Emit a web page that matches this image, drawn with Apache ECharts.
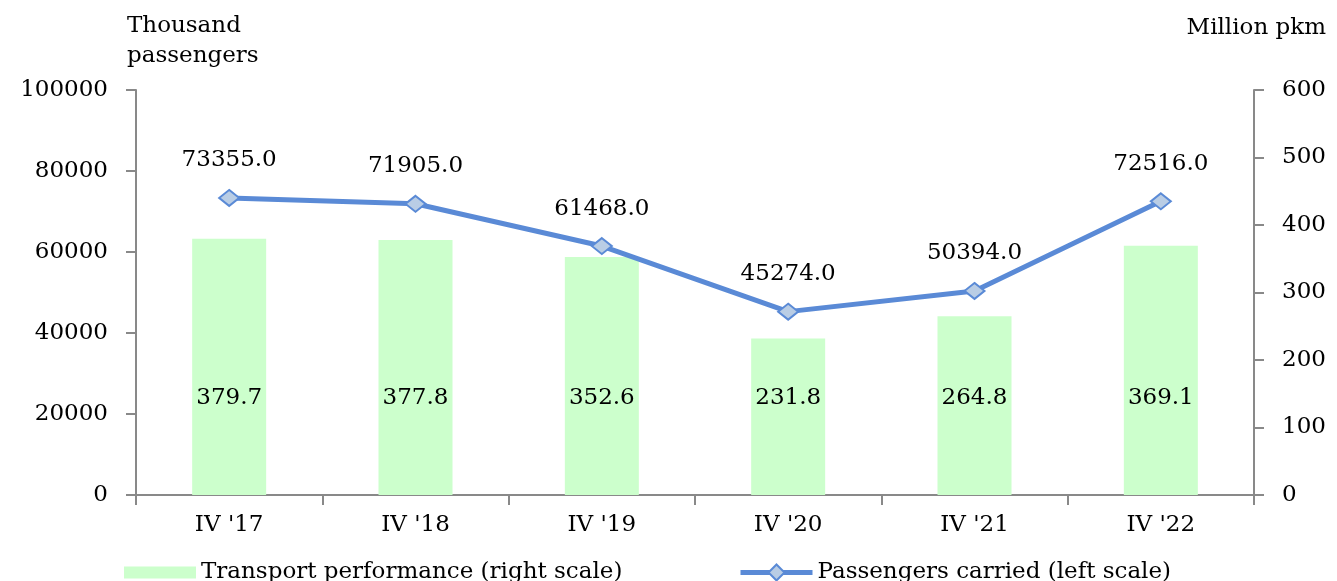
<!DOCTYPE html>
<html>
<head>
<meta charset="utf-8">
<script src="https://cdn.jsdelivr.net/npm/echarts@6/dist/echarts.min.js"></script>
<style>
  html, body { margin: 0; padding: 0; background: #fff; }
  #chart { width: 1337px; height: 581px; }
</style>
</head>
<body>
<div id="chart"></div>
<script>
const categories = ["IV '17", "IV '18", "IV '19", "IV '20", "IV '21", "IV '22"]
const transportPerformance = [379.7, 377.8, 352.6, 231.8, 264.8, 369.1]
const passengersCarried = [73355.0, 71905.0, 61468.0, 45274.0, 50394.0, 72516.0]
const leftTicks = { min: 0, max: 100000, interval: 20000 }
const rightTicks = { min: 0, max: 600, interval: 100 }

const font = 'DejaVu Serif'
const axisGray = '#898989'
const lineBlue = '#5A8AD6'
const fontSize = 23

const chart = echarts.init(document.getElementById('chart'))

const axisLine = { show: true, lineStyle: { color: axisGray, width: 2 } }
const axisTick = { show: true, length: 10, lineStyle: { color: axisGray, width: 2 } }
const labelText = { color: '#000', fontFamily: font, fontSize: fontSize }

const option = {
  animation: false,
  textStyle: { fontFamily: font },
  grid: { left: 136, right: 83, top: 90, bottom: 86 },
  graphic: [
    {
      type: 'text', left: 127, top: 11,
      style: { text: 'Thousand\npassengers', fontFamily: font, fontSize: fontSize, lineHeight: 30, fill: '#000' }
    },
    {
      type: 'text', right: 11, top: 17,
      style: { text: 'Million pkm', fontFamily: font, fontSize: fontSize, fill: '#000' }
    }
  ],
  legend: [
    {
      data: [{ name: 'Transport performance (right scale)', icon: 'rect' }],
      left: 119, top: 556,
      itemWidth: 72, itemHeight: 12,
      textStyle: labelText
    },
    {
      data: ['Passengers carried (left scale)'],
      left: 733, top: 556,
      itemWidth: 72, itemHeight: 20,
      lineStyle: { width: 5, color: lineBlue },
      textStyle: labelText
    }
  ],
  xAxis: {
    type: 'category',
    data: categories,
    boundaryGap: true,
    axisLine: axisLine,
    axisTick: axisTick,
    axisLabel: Object.assign({ margin: 19 }, labelText),
    splitLine: { show: false }
  },
  yAxis: [
    {
      type: 'value',
      min: leftTicks.min, max: leftTicks.max, interval: leftTicks.interval,
      axisLine: axisLine,
      axisTick: axisTick,
      axisLabel: Object.assign({ margin: 28, formatter: v => String(v) }, labelText),
      splitLine: { show: false }
    },
    {
      type: 'value',
      position: 'right',
      min: rightTicks.min, max: rightTicks.max, interval: rightTicks.interval,
      axisLine: axisLine,
      axisTick: axisTick,
      axisLabel: Object.assign({ margin: 28, formatter: v => String(v) }, labelText),
      splitLine: { show: false }
    }
  ],
  series: [
    {
      name: 'Transport performance (right scale)',
      type: 'bar',
      yAxisIndex: 1,
      data: transportPerformance,
      barWidth: 74,
      itemStyle: { color: '#CCFFCC' },
      label: {
        show: true,
        position: 'insideBottom',
        distance: 85,
        formatter: p => p.value.toFixed(1),
        color: '#000', fontFamily: font, fontSize: fontSize
      },
      z: 1
    },
    {
      name: 'Passengers carried (left scale)',
      type: 'line',
      yAxisIndex: 0,
      data: passengersCarried,
      symbol: 'diamond',
      symbolSize: [20, 16],
      lineStyle: { color: lineBlue, width: 5 },
      itemStyle: { color: '#B9CDE5', borderColor: lineBlue, borderWidth: 2 },
      label: {
        show: true,
        position: 'top',
        distance: 17,
        formatter: p => p.value.toFixed(1),
        color: '#000', fontFamily: font, fontSize: fontSize
      },
      z: 3
    }
  ]
}

chart.setOption(option)
</script>
</body>
</html>
